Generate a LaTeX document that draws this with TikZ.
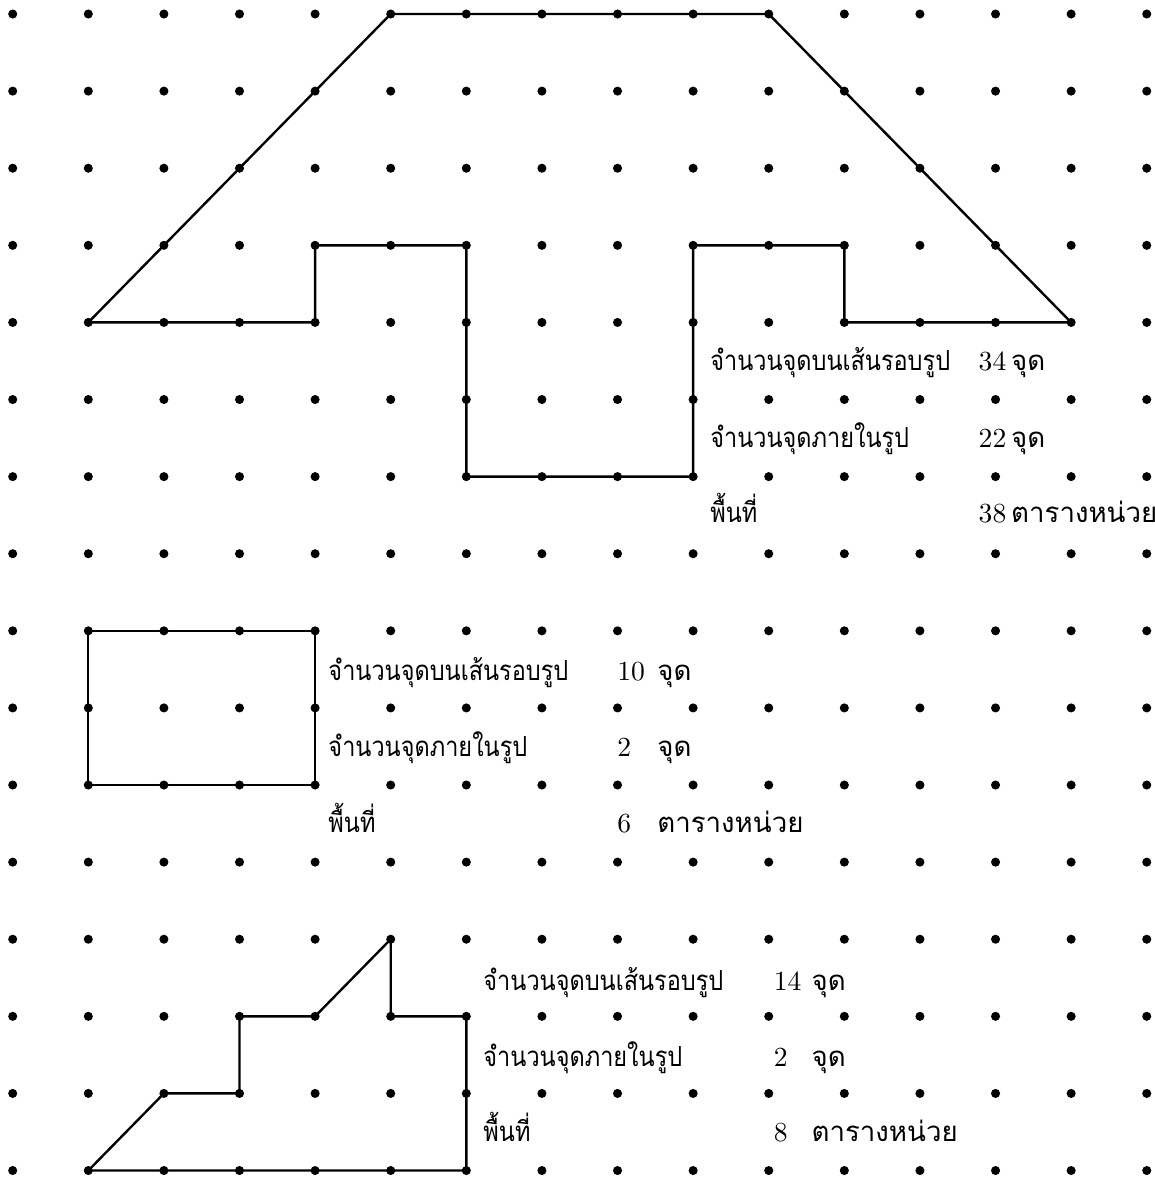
\documentclass[tikz,border=0pt]{standalone}
\usepackage{fontspec}
\newfontfamily\thaifont[Script=Thai]{Loma}
\newfontfamily\thainarrow[Script=Thai, FakeStretch=0.85]{Loma}
\usepackage{tikz}
\usetikzlibrary{positioning}
\tikzset{
    griddot/.style={fill=black},
    outline/.style={draw=black, line width=0.9pt, line join=miter},
    label/.style={anchor=base west, inner sep=0pt, font=\fontsize{10.4}{12}\selectfont\thainarrow},
    unit/.style={anchor=base west, inner sep=0pt, font=\fontsize{10.4}{12}\selectfont\thaifont},
    number/.style={anchor=base west, inner sep=0pt, font=\fontsize{10.4}{12}\selectfont}
}

\begin{document}
\begin{tikzpicture}[x=1cm, y={(0,-1.0198cm)}]
    \useasboundingbox (-0.168,-0.182) rectangle (15.097,15.097);

    % Dot grid
    \foreach \i in {0,...,15}
        \foreach \j in {0,...,15}
            \fill[griddot] (\i,\j) circle[radius=0.06cm];

    % Shapes
    \draw[outline] (1,4) -- (5,0) -- (10,0) -- (14,4) -- (11,4) -- (11,3) -- (9,3) -- (9,6)
        -- (6,6) -- (6,3) -- (4,3) -- (4,4) -- cycle;
    \draw[outline] (1,8) rectangle (4,10);
    \draw[outline] (1,15) -- (2,14) -- (3,14) -- (3,13) -- (4,13) -- (5,12) -- (5,13) -- (6,13)
        -- (6,15) -- cycle;

    % Top block texts
    \node (borderA) [label] at (9.22,4.63) {จำนวนจุดบนเส้นรอบรูป};
    \node (borderAnum) [number] at (12.77,4.63) {34};
    \node (borderAunit) [unit] at (13.2,4.63) {จุด};
    \node (insideA) [label] at (9.22,5.62) {จำนวนจุดภายในรูป};
    \node (insideAnum) [number] at (12.77,5.62) {22};
    \node (insideAunit) [unit] at (13.2,5.62) {จุด};
    \node (areaA) [label] at (9.22,6.6) {พื้นที่};
    \node (areaAnum) [number] at (12.77,6.6) {38};
    \node (areaAunit) [unit] at (13.2,6.6) {ตารางหน่วย};

    % Middle block texts
    \node (borderB) [label] at (4.17,8.65) {จำนวนจุดบนเส้นรอบรูป};
    \node (borderBnum) [number] at (7.99,8.65) {10};
    \node (borderBunit) [unit] at (8.52,8.65) {จุด};
    \node (insideB) [label] at (4.17,9.63) {จำนวนจุดภายในรูป};
    \node (insideBnum) [number] at (7.99,9.63) {2};
    \node (insideBunit) [unit] at (8.52,9.63) {จุด};
    \node (areaB) [label] at (4.17,10.61) {พื้นที่};
    \node (areaBnum) [number] at (7.99,10.61) {6};
    \node (areaBunit) [unit] at (8.52,10.61) {ตารางหน่วย};

    % Bottom block texts
    \node (borderC) [label] at (6.22,12.67) {จำนวนจุดบนเส้นรอบรูป};
    \node (borderCnum) [number] at (10.06,12.67) {14};
    \node (borderCunit) [unit] at (10.56,12.67) {จุด};
    \node (insideC) [label] at (6.22,13.65) {จำนวนจุดภายในรูป};
    \node (insideCnum) [number] at (10.06,13.65) {2};
    \node (insideCunit) [unit] at (10.56,13.65) {จุด};
    \node (areaC) [label] at (6.22,14.62) {พื้นที่};
    \node (areaCnum) [number] at (10.06,14.62) {8};
    \node (areaCunit) [unit] at (10.56,14.62) {ตารางหน่วย};

\end{tikzpicture}
\end{document}
